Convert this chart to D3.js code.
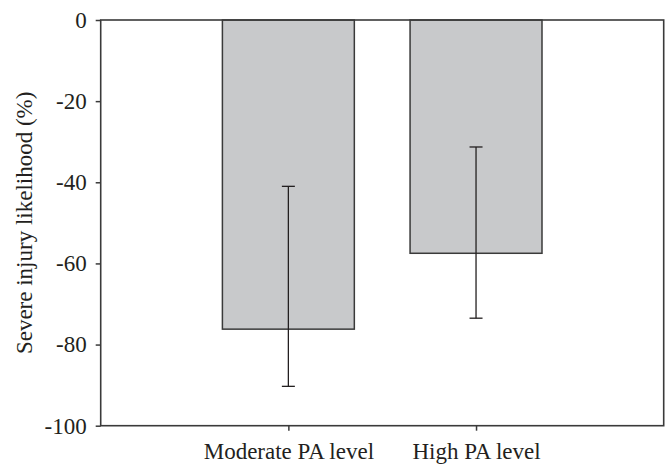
<!DOCTYPE html>
<html>
<head>
<meta charset="utf-8">
<script src="https://cdn.jsdelivr.net/npm/d3@7"></script>
<style>
  html, body { margin: 0; padding: 0; background: #fff; }
  svg { display: block; }
  svg text { font-family: "Liberation Serif", Tinos, "Times New Roman", serif; fill: #231f20; }
</style>
</head>
<body>
<svg id="chart" width="667" height="466"></svg>
<script>
const categories = ["Moderate PA level", "High PA level"];
const values = [-76.2, -57.5];
const errLow = [-90.3, -73.5];
const errHigh = [-41.0, -31.3];
const yTicks = [0, -20, -40, -60, -80, -100];
const yLabel = "Severe injury likelihood (%)";

(function () {
const svg = d3.select("#chart");
const mLeft = 100.7, mRight = 663.7, mTop = 20, mBottom = 425.7;
const axisColor = "#3a3a3a";
const FONT = "'Liberation Serif', Tinos, 'Times New Roman', serif";

const x = d3.scaleLinear().domain([0, categories.length + 1]).range([mLeft, mRight]);
const y = d3.scaleLinear().domain([0, -100]).range([mTop, mBottom]);
const barW = x(0.703) - x(0);

// bars
svg.append("g").selectAll("rect").data(values).join("rect")
  .attr("x", (d, i) => x(i + 1) - barW / 2)
  .attr("y", y(0))
  .attr("width", barW)
  .attr("height", d => y(d) - y(0))
  .attr("fill", "#c8c9cb")
  .attr("stroke", axisColor)
  .attr("stroke-width", 1.5);

// error bars
const eb = svg.append("g").attr("stroke", "#231f20").attr("stroke-width", 1.3);
categories.forEach((c, i) => {
  const cx = x(i + 1);
  eb.append("line").attr("x1", cx).attr("x2", cx).attr("y1", y(errHigh[i])).attr("y2", y(errLow[i]));
  [errHigh[i], errLow[i]].forEach(v => {
    eb.append("line").attr("x1", cx - 6.5).attr("x2", cx + 6.5).attr("y1", y(v)).attr("y2", y(v));
  });
});

// frame
svg.append("rect")
  .attr("x", mLeft).attr("y", mTop)
  .attr("width", mRight - mLeft).attr("height", mBottom - mTop)
  .attr("fill", "none").attr("stroke", axisColor).attr("stroke-width", 1.6);

// y axis
const yAxis = svg.append("g").attr("transform", `translate(${mLeft},0)`)
  .call(d3.axisLeft(y).tickValues(yTicks).tickSize(5).tickPadding(9).tickFormat(d => String(d)));
yAxis.attr("font-family", FONT).attr("font-size", 23);
yAxis.select(".domain").remove();
yAxis.selectAll(".tick line").attr("stroke", axisColor).attr("stroke-width", 1.5);
yAxis.selectAll(".tick text").attr("fill", "#231f20");

// x axis
const xAxis = svg.append("g").attr("transform", `translate(0,${mBottom})`)
  .call(d3.axisBottom(x).tickValues(categories.map((c, i) => i + 1))
    .tickFormat((d) => categories[d - 1]).tickSize(5).tickPadding(12));
xAxis.attr("font-family", FONT).attr("font-size", 23);
xAxis.select(".domain").remove();
xAxis.selectAll(".tick line").attr("stroke", axisColor).attr("stroke-width", 1.5);
xAxis.selectAll(".tick text").attr("fill", "#231f20");

// y label
svg.append("text")
  .attr("transform", `translate(32,${(mTop + mBottom) / 2}) rotate(-90)`)
  .attr("text-anchor", "middle")
  .attr("font-family", FONT)
  .attr("font-size", 23)
  .text(yLabel);
})();
</script>
</body>
</html>
